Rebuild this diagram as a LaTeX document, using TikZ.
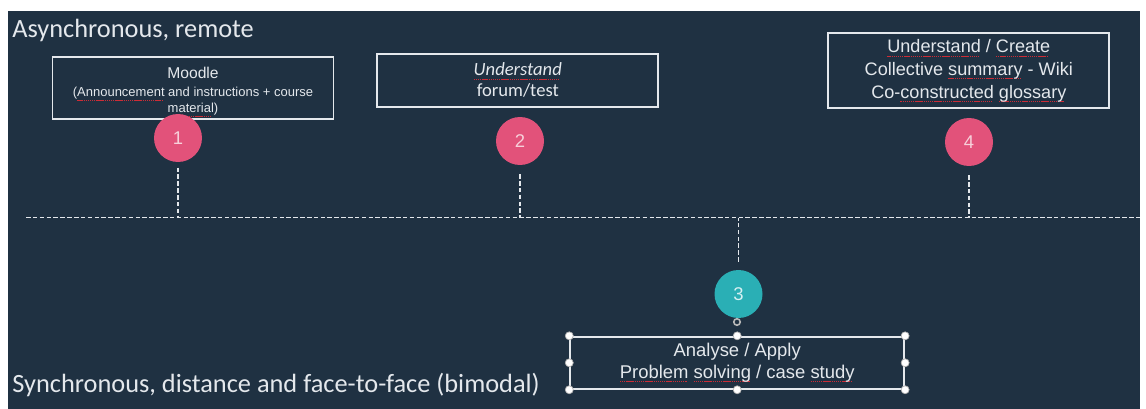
\documentclass[tikz,border=0pt]{standalone}
\usepackage{fontspec}
\setmainfont{Liberation Sans}
\newfontfamily\slidefont{Carlito}

\definecolor{slidebg}{RGB}{31,49,66}
\definecolor{chalk}{RGB}{228,232,236}
\definecolor{rosedot}{RGB}{226,82,122}
\definecolor{rosetext}{RGB}{247,208,218}
\definecolor{tealdot}{RGB}{42,175,181}
\definecolor{tealtext}{RGB}{214,240,242}
\definecolor{spellred}{RGB}{205,45,55}

% red dotted mark under flagged words
\newcommand\spell[1]{\setbox0\hbox{#1}\leavevmode\rlap{\textcolor{spellred}{\leaders\hbox{\rule[-2.4pt]{0.8pt}{0.6pt}\kern0.4pt}\hskip\wd0}}\box0\relax}

\begin{document}
\begin{tikzpicture}[x=0.02cm, y=-0.02cm,
    slidebox/.style={draw=chalk, line width=1.1pt, text=chalk, align=center, inner sep=0pt},
    numdot/.style={circle, fill=#1, inner sep=0pt, minimum size=0.96cm, font=\fontsize{10.5}{10.5}\selectfont},
    dashlink/.style={draw=chalk, line width=1.1pt, dash pattern=on 2.6pt off 1.3pt},
    lane/.style={anchor=base west, text=chalk, inner sep=0pt, font=\slidefont\fontsize{15}{17}\selectfont},
    handle/.style={circle, draw=gray!60, fill=white, line width=0.4pt, inner sep=0pt, minimum size=0.16cm}]

    % Slide background
    \useasboundingbox (0,0) rectangle (1146,409);
    \fill[white] (0,0) rectangle (1146,409);
    \fill[slidebg] (8,11) rectangle (1140,409);

    % Lane titles
    \node[lane] (async) at (12,37) {Asynchronous, remote};
    \node[lane] (sync) at (12,392) {Synchronous, distance and face-to-face (bimodal)};

    % Activity boxes
    \node[slidebox, minimum width=5.62cm, minimum height=1.24cm, font=\fontsize{7.4}{9.2}\selectfont] (moodle) at (193,88.3)
        {{\fontsize{8.9}{8.9}\selectfont\rule{0pt}{11pt}Moodle}\\[1pt](\spell{Announcement} and instructions + course\\\spell{material})};
    \node[slidebox, minimum width=5.62cm, minimum height=1.05cm, font=\slidefont\fontsize{10.6}{12}\selectfont] (forum) at (517.8,80.3)
        {\itshape\spell{Understand}\\forum/test};
    \node[slidebox, minimum width=5.62cm, minimum height=1.5cm, font=\fontsize{10.3}{13}\selectfont] (wiki) at (968.8,70.8)
        {\spell{Understand} / \spell{Create}\\Collective \spell{summary} - Wiki\\Co-\spell{constructed} \spell{glossary}};
    \node[slidebox, minimum width=6.68cm, minimum height=1.04cm, font=\fontsize{10.5}{12.3}\selectfont] (case) at (737.2,362.8)
        {Analyse / Apply\\\spell{Problem} \spell{solving} / case \spell{study}};

    % Numbered steps
    \node[numdot=rosedot, text=rosetext] (c1) at (178,138) {1};
    \node[numdot=rosedot, text=rosetext] (c2) at (520,141) {2};
    \node[numdot=tealdot, text=tealtext] (c3) at (738.5,294) {3};
    \node[numdot=rosedot, text=rosetext] (c4) at (969,142) {4};

    % Time line
    \coordinate (axisL) at (26,217.5);
    \coordinate (axisR) at (1140,217.5);
    \draw[dashlink] (axisL) -- (axisR);
    \draw[dashlink, shorten <=3pt] (c1.south) -- (c1.south |- axisL);
    \draw[dashlink, shorten <=5pt] (c2.south) -- (c2.south |- axisL);
    \draw[dashlink, shorten <=5pt] (c4.south) -- (c4.south |- axisL);
    \draw[dashlink, shorten <=4.5pt] (c3.north) -- (c3.north |- axisL);

    % Selection handles on box 3
    \node[circle, draw=gray!55, line width=0.9pt, minimum size=0.13cm, inner sep=0pt] (spin) at (737,322) {};
    \foreach \a in {north west, north, north east, east, south east, south, south west, west}
        \node[handle] (hd \a) at (case.\a) {};
\end{tikzpicture}
\end{document}
